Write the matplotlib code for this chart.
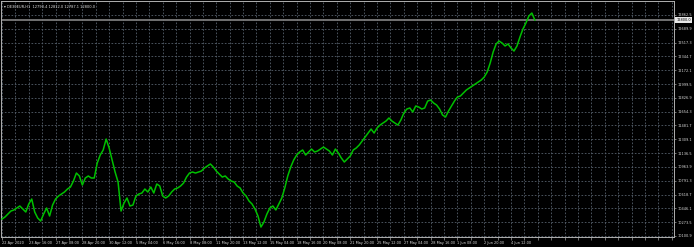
import matplotlib
matplotlib.use('Agg')
import matplotlib.pyplot as plt
import numpy as np

# ---- data ----
title = "DE30EUR,H1  12790.4 12812.0 12787.1 12800.0"

closes = [
    10312, 10337, 10375, 10412, 10425, 10450, 10475, 10437, 10400, 10500,
    10562, 10400, 10325, 10287, 10375, 10450, 10350, 10487, 10562, 10600,
    10625, 10650, 10687, 10712, 10787, 10887, 10850, 10737, 10825, 10850,
    10825, 10825, 11012, 11112, 11175, 11312, 11200, 11050, 10900, 10775,
    10412, 10512, 10575, 10475, 10487, 10600, 10625, 10637, 10687, 10650,
    10712, 10637, 10750, 10725, 10600, 10575, 10600, 10650, 10687, 10700,
    10725, 10762, 10837, 10887, 10900, 10887, 10900, 10912, 10950, 10975,
    11000, 10962, 10912, 10875, 10837, 10850, 10812, 10787, 10775, 10725,
    10700, 10637, 10600, 10537, 10500, 10437, 10350, 10212, 10275, 10375,
    10450, 10475, 10425, 10500, 10575, 10700, 10850, 10962, 11050, 11112,
    11150, 11175, 11112, 11150, 11187, 11150, 11162, 11187, 11212, 11187,
    11162, 11112, 11187, 11137, 11075, 11025, 11062, 11100, 11175, 11200,
    11237, 11287, 11337, 11387, 11437, 11387, 11450, 11487, 11512, 11537,
    11575, 11537, 11512, 11487, 11550, 11637, 11687, 11700, 11650, 11725,
    11712, 11687, 11700, 11787, 11800, 11762, 11737, 11687, 11612, 11587,
    11662, 11725, 11787, 11837, 11850, 11887, 11925, 11950, 11975, 12000,
    12025, 12050, 12087, 12150, 12262, 12400, 12500, 12537, 12512, 12475,
    12500, 12450, 12412, 12475, 12587, 12687, 12762, 12850, 12887, 12800,
]
bar_step = 4          # H1 bars between sampled points
label_every = 36      # bars between time labels

time_labels = [
    "22 Apr 2020", "23 Apr 16:00", "27 Apr 08:00", "28 Apr 20:00",
    "30 Apr 12:00", "5 May 04:00", "6 May 16:00", "8 May 08:00",
    "11 May 20:00", "13 May 12:00", "15 May 04:00", "18 May 16:00",
    "20 May 08:00", "21 May 20:00", "25 May 12:00", "27 May 04:00",
    "28 May 16:00", "1 Jun 08:00", "2 Jun 20:00", "4 Jun 12:00",
]

price_ticks = [
    12862.5, 12689.9, 12517.3, 12344.7, 12172.1, 11999.5, 11826.9,
    11654.3, 11481.7, 11309.1, 11136.5, 10963.9, 10791.3, 10618.7,
    10446.1, 10273.5, 10100.9,
]
last_price = 12800.0

# ---- figure ----
W, H = 694, 247
fig = plt.figure(figsize=(W / 100, H / 100), dpi=100, facecolor='black')
ax = fig.add_axes([1 / W, 10 / H, 673 / W, 236 / H])
ax.set_facecolor('black')

x = np.arange(len(closes)) * bar_step
ax.plot(x, closes, color='#00c000', lw=1.1, zorder=3)

ax.set_xlim(-1.3, 903)
ax.set_ylim(10087.5, 13037.5)

# grid
grid_col = '#56606c'
xt = np.arange(0, 903, label_every // 2)
ax.set_xticks(xt)
xl = []
for k in range(len(xt)):
    if k % 2 == 0 and k // 2 < len(time_labels):
        xl.append(time_labels[k // 2])
    else:
        xl.append('')
ax.set_xticklabels(xl)
for lbl in ax.get_xticklabels():
    lbl.set_ha('left')

ax.set_yticks(price_ticks)
ax.set_yticklabels([f"{v:.1f}" for v in price_ticks])
ax.yaxis.tick_right()

ax.grid(True, color=grid_col, lw=0.6, ls=(0, (2, 2)))
ax.tick_params(axis='x', colors='#a0a0a0', labelcolor='#dcdcdc', length=2,
               width=0.5, pad=1.2, labelsize=2.5)
ax.tick_params(axis='y', colors='#a0a0a0', labelcolor='#dcdcdc', length=1.5,
               width=0.5, pad=0.8, labelsize=2.5)

for s in ax.spines.values():
    s.set_color('#b0b0b0')
    s.set_linewidth(0.7)

# last price line and box
ax.axhline(last_price, color='#7a7a7a', lw=1.3, zorder=2)
ax.annotate(f"{last_price:.1f}", xy=(1.0, last_price),
            xycoords=('axes fraction', 'data'), xytext=(1.6, 0),
            textcoords='offset points', ha='left', va='center',
            fontsize=2.5, color='black',
            bbox=dict(boxstyle='square,pad=0.25', fc='#e8e8e8', ec='none'),
            annotation_clip=False)

# title
ax.text(0.004, 0.985, "\u25be " + title, transform=ax.transAxes,
        ha='left', va='top', fontsize=2.6, color='#e0e0e0')

fig.savefig('out.png', dpi=100, facecolor='black')
